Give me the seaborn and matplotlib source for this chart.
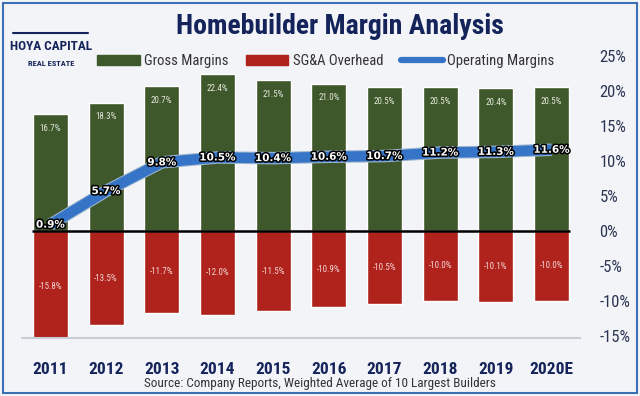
import pandas as pd
import seaborn as sns
import matplotlib.pyplot as plt
import matplotlib.patheffects as pe
from matplotlib import font_manager
from matplotlib.lines import Line2D
from matplotlib.patches import Patch, Rectangle

# Data
years = ["2011", "2012", "2013", "2014", "2015", "2016", "2017", "2018", "2019", "2020E"]
gross = [16.7, 18.3, 20.7, 22.4, 21.5, 21.0, 20.5, 20.5, 20.4, 20.5]
sga = [-15.8, -13.5, -11.7, -12.0, -11.5, -10.9, -10.5, -10.0, -10.1, -10.0]
operating = [0.9, 5.7, 9.8, 10.5, 10.4, 10.6, 10.7, 11.2, 11.3, 11.6]

df = pd.DataFrame({"year": years, "gross": gross, "sga": sga, "operating": operating})

GREEN = "#3E572B"
RED = "#B0221C"
BLUE = "#3574C6"
NAVY = "#14245A"
BG = "#F3F4F8"

sns.set_theme(style="white")

# pick a narrow font if one is installed
names = {f.name for f in font_manager.fontManager.ttflist}
narrow = "DejaVu Sans"
for cand in ["Liberation Sans Narrow", "Roboto Condensed", "Open Sans Condensed", "DejaVu Sans Condensed"]:
    if cand in names:
        narrow = cand
        break
plt.rcParams["font.family"] = [narrow, "DejaVu Sans"]

fig = plt.figure(figsize=(6.4, 3.96), dpi=100, facecolor=BG)
ax = fig.add_axes([22 / 640, 1 - 338 / 396, (580 - 22) / 640, (338 - 56) / 396])
ax.set_facecolor(BG)

sns.barplot(data=df, x="year", y="gross", color=GREEN, width=0.63, saturation=1, ax=ax)
sns.barplot(data=df, x="year", y="sga", color=RED, width=0.63, saturation=1, ax=ax)

ax.hlines(0, -0.33, 9.33, color="black", lw=1.8, zorder=3)

sns.lineplot(data=df, x="year", y="operating", color=BLUE, lw=7.5, sort=False, ax=ax,
             solid_joinstyle="round", solid_capstyle="butt", zorder=4,
             path_effects=[pe.Stroke(linewidth=9, foreground="#9FB7CF"), pe.Normal()])

# value labels
for i in range(len(years)):
    ax.text(i, gross[i] - 2.0, f"{gross[i]:.1f}%", ha="center", va="center",
            color="#E4E8DC", fontsize=6.5, zorder=5)
    ax.text(i, sga[i] / 2, f"{sga[i]:.1f}%", ha="center", va="center",
            color="#F2D5D2", fontsize=6.5, zorder=5)
    ax.text(i, operating[i], f"{operating[i]:.1f}%", ha="center", va="center",
            color="white", fontsize=7.5, fontweight="bold", zorder=6,
            family="DejaVu Sans",
            path_effects=[pe.withStroke(linewidth=2.2, foreground="black")])

ax.set_xlim(-0.51, 9.51)
ax.set_ylim(-15.3, 25)
ax.set_yticks(range(-15, 30, 5))
ax.set_yticklabels([f"{t}%" for t in range(-15, 30, 5)])
ax.yaxis.tick_right()
ax.tick_params(axis="y", length=0, pad=14, labelsize=12, labelcolor="#2B3552")
ax.tick_params(axis="x", length=0, pad=17, labelsize=12.5, labelcolor=NAVY)
for lab in ax.get_xticklabels():
    lab.set_fontweight("bold")
ax.set_xlabel("")
ax.set_ylabel("")
for s in ["top", "left", "right"]:
    ax.spines[s].set_visible(False)
ax.spines["bottom"].set_color("#C9CDD6")
ax.spines["bottom"].set_linewidth(1.5)

# legend
handles = [Patch(color=GREEN, label="Gross Margins"),
           Patch(color=RED, label="SG&A Overhead"),
           Line2D([], [], color=BLUE, lw=4.5, solid_capstyle="round", label="Operating Margins")]
fig.legend(handles=handles, loc="center", bbox_to_anchor=(326 / 640, 1 - 61 / 396), ncol=3,
           frameon=False, fontsize=10.5, handlelength=2.9, handleheight=0.7,
           columnspacing=1.2, handletextpad=0.3, labelcolor="#333333")

# title and logo
fig.text(340 / 640, 1 - 27 / 396, "Homebuilder Margin Analysis", ha="center", va="center",
         fontsize=20, fontweight="bold", color=NAVY)
fig.text(51 / 640, 1 - 46 / 396, "HOYA CAPITAL", ha="center", va="center",
         fontsize=9.5, fontweight="bold", color=NAVY)
fig.text(51 / 640, 1 - 63 / 396, "REAL ESTATE", ha="center", va="center",
         fontsize=6, fontweight="bold", color=NAVY)
fig.add_artist(Line2D([13 / 640, 88 / 640], [1 - 33 / 396, 1 - 33 / 396],
                      color=NAVY, lw=1.5, transform=fig.transFigure))

fig.text(320 / 640, 1 - 383 / 396, "Source: Company Reports, Weighted Average of 10 Largest Builders",
         ha="center", va="center", fontsize=9.5, color="#333333")

# frame
fig.add_artist(Rectangle((3 / 640, 3 / 396), 634 / 640, 390 / 396, fill=False,
                         edgecolor="#3C6FB4", lw=1.5, transform=fig.transFigure))

fig.savefig("out.png", dpi=100, facecolor=BG)
